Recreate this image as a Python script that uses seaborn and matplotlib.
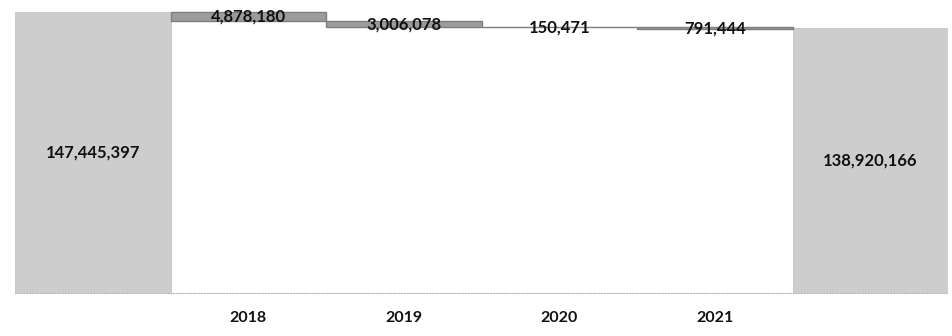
import matplotlib
matplotlib.use("Agg")
import matplotlib.pyplot as plt
import numpy as np
import pandas as pd
import seaborn as sns

# Waterfall: opening total, yearly decreases, closing total
start_label = "start"
end_label = "end"
years = ["2018", "2019", "2020", "2021"]
start_value = 147445397
decreases = [4878180, 3006078, 150471, 791444]
end_value = 138920166

categories = [start_label] + years + [end_label]
tick_labels = [""] + years + [""]

sns.set_theme(style="white")
plt.rcParams["font.family"] = ["Lato", "DejaVu Sans"]

# running level after each decrease, used as the floating bar bottoms
levels = start_value - np.cumsum(decreases)
delta_bottoms = levels
totals = pd.DataFrame({"cat": [start_label, end_label],
                       "value": [start_value, end_value]})
deltas = pd.DataFrame({"cat": years, "value": decreases,
                       "bottom": delta_bottoms})

fig = plt.figure(figsize=(9.52, 3.36), dpi=100)
ax = fig.add_axes([15 / 952, 1 - 293 / 336, 933 / 952, 288 / 336])

sns.barplot(data=totals, x="cat", y="value", order=categories,
            color="#cdcdcd", saturation=1, width=1.0, ax=ax,
            edgecolor="#c4c4c4", linewidth=0.6)
sns.barplot(data=deltas, x="cat", y="value", order=categories,
            bottom=deltas["bottom"].to_numpy(), color="#9c9c9c",
            saturation=1, width=1.0, ax=ax,
            edgecolor="#7e7e7e", linewidth=1.0)

label_kw = dict(ha="center", va="center", fontsize=12,
                fontweight="bold", color="#111111")
ax.text(0, start_value / 2, f"{start_value:,}", **label_kw)
ax.text(5, end_value / 2, f"{end_value:,}", **label_kw)
for i, (v, b) in enumerate(zip(decreases, delta_bottoms), start=1):
    ax.text(i, b + v / 2, f"{v:,}", **label_kw)

ax.set_xlim(-0.5, 5.5)
ax.set_ylim(0, 151.1e6)
ax.set_xticks(range(len(categories)))
ax.set_xticklabels(tick_labels, fontsize=11.5, fontweight="bold", color="#111111")
ax.tick_params(axis="x", length=3, color="#bbbbbb", pad=10)
ax.set_yticks([])
ax.set_xlabel("")
ax.set_ylabel("")
for side in ("left", "right", "top"):
    ax.spines[side].set_visible(False)
ax.spines["bottom"].set_linestyle((0, (1, 1.5)))
ax.spines["bottom"].set_color("#b5b5b5")
ax.spines["bottom"].set_linewidth(0.8)

fig.savefig("out.png", dpi=100)
